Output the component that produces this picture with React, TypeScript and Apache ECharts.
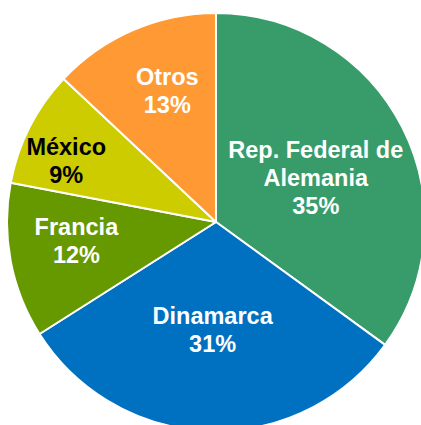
import React, { useEffect, useRef } from "react";
import * as echarts from "echarts";

const categories = ["Rep. Federal de\nAlemania", "Dinamarca", "Francia", "México", "Otros"];
const values = [35, 31, 12, 9, 13];

const colors = ["#389B6A", "#0070C0", "#669900", "#CCCC00", "#FF9933"];
const labelColors = ["#FFFFFF", "#FFFFFF", "#FFFFFF", "#000000", "#FFFFFF"];
const labelOffsets: [number, number][] = [
  [4, 5],
  [0, 1],
  [-34, -1],
  [-54, -12],
  [-6, -32],
];

export default function App() {
  const ref = useRef<HTMLDivElement>(null);
  useEffect(() => {
    if (!ref.current) return;
    const chart = echarts.init(ref.current, undefined, { renderer: "svg" });
    chart.setOption({
      animation: false,
      backgroundColor: "#FFFFFF",
      series: [
        {
          type: "pie",
          center: [216, 222],
          radius: 209,
          startAngle: 90,
          clockwise: true,
          avoidLabelOverlap: false,
          itemStyle: { borderColor: "#FFFFFF", borderWidth: 2 },
          label: {
            show: true,
            position: "inside",
            formatter: "{b}\n{c}%",
            fontFamily: "'Liberation Sans', Arial, sans-serif",
            fontWeight: "bold",
            fontSize: 23.5,
            lineHeight: 28,
            align: "center",
          },
          labelLine: { show: false },
          emphasis: { disabled: true },
          data: categories.map((name, i) => ({
            name,
            value: values[i],
            itemStyle: { color: colors[i] },
            label: { color: labelColors[i], offset: labelOffsets[i] },
          })),
        },
      ],
    });
    return () => chart.dispose();
  }, []);
  return (
    <div
      ref={ref}
      style={{ position: "fixed", left: 0, top: 0, width: 421, height: 425 }}
    />
  );
}
